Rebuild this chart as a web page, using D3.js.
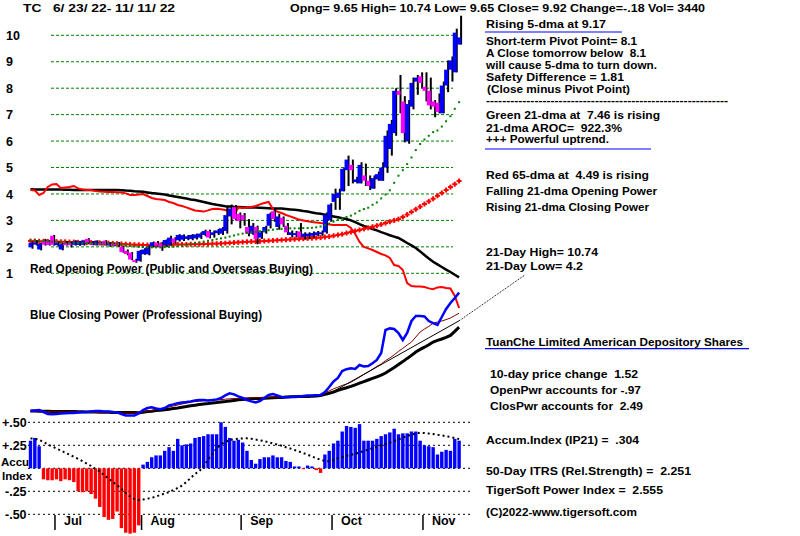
<!DOCTYPE html>
<html><head><meta charset="utf-8">
<script src="https://cdn.jsdelivr.net/npm/d3@7"></script>
<style>
body{margin:0;background:#fff}
svg{display:block;background:#fff}
text{font-family:"Liberation Sans",Arial,sans-serif;font-weight:bold;font-size:12px;fill:#000;white-space:pre}
text.side{font-size:11px}
</style>
</head><body>
<svg id="c" width="800" height="536"></svg>
<script>
// ---------- DATA ----------
const opens = [1.98,2.12,1.9,2.23,2.2,2.42,2.08,1.9,2.14,2.14,
2.08,2.08,2.08,2.3,2.15,2.08,2.15,2.22,2.06,2.12,
2.14,2.0,1.85,1.78,1.5,1.47,1.72,1.72,2.02,2.15,
2.12,2.07,2.07,2.32,2.25,2.27,2.3,2.3,2.32,2.35,
2.45,2.6,2.45,2.52,2.5,2.6,3.15,3.5,3.25,3.2,
2.75,2.5,2.75,2.35,2.55,2.8,3.35,2.75,3.1,2.8,
2.45,2.45,2.58,2.38,2.4,2.42,2.45,2.48,2.55,3.0,
3.7,3.85,4.1,4.9,5.1,4.45,4.4,4.7,4.5,4.2,
4.55,4.5,5.0,5.7,6.3,7.9,7.5,6.0,7.3,8.25,
8.45,8.05,7.9,7.5,7.45,7.05,8.1,8.7,8.6,9.65];
const highs = [2.2,2.25,2.16,2.3,2.25,2.45,2.2,2.15,2.22,2.2,
2.25,2.22,2.25,2.33,2.22,2.25,2.2,2.25,2.18,2.16,
2.18,2.05,1.9,1.8,1.55,1.88,1.95,2.05,2.2,2.22,
2.18,2.28,2.42,2.36,2.48,2.47,2.45,2.48,2.5,2.55,
2.65,2.65,2.62,2.68,2.75,3.55,3.6,3.58,3.3,3.28,
3.05,2.9,2.8,2.6,2.8,3.3,3.45,3.25,3.15,2.9,
2.62,2.6,2.9,2.55,2.55,2.58,2.6,2.62,3.3,3.65,
4.2,4.2,5.0,5.45,5.3,4.65,5.2,5.15,4.7,4.7,
4.85,5.2,6.4,6.8,8.0,8.5,7.7,7.55,8.4,8.5,
8.6,8.6,8.4,7.55,7.8,8.25,9.05,9.2,10.25,10.74];
const lows = [1.93,2.05,1.87,2.05,2.05,2.05,2.02,1.87,2.05,1.98,
2.05,2.04,2.05,2.1,2.06,2.05,2.05,2.05,2.0,2.02,
2.0,1.78,1.68,1.5,1.4,1.44,1.7,1.68,1.98,2.0,
1.85,2.0,2.05,2.12,2.2,2.22,2.25,2.25,2.28,2.3,
2.4,2.32,2.35,2.45,2.45,2.5,2.85,3.0,2.7,2.8,
2.4,2.45,2.1,2.3,2.5,2.7,2.95,2.65,2.75,2.45,
2.35,2.35,2.35,2.28,2.3,2.35,2.4,2.42,2.5,2.95,
3.4,3.4,4.1,4.3,4.4,4.4,4.4,4.3,4.15,4.2,
4.5,4.5,4.8,5.45,6.2,7.05,5.95,5.9,7.2,7.75,
8.0,7.5,7.2,6.9,7.05,7.05,7.85,8.25,8.6,9.65];
const closes = [2.15,2.16,2.12,2.08,2.07,2.08,2.14,2.1,2.08,2.08,
2.2,2.2,2.23,2.15,2.08,2.22,2.08,2.08,2.14,2.06,
2.06,1.8,1.73,1.52,1.44,1.85,1.9,2.0,2.17,2.05,
1.98,2.26,2.35,2.17,2.45,2.44,2.4,2.45,2.47,2.5,
2.6,2.35,2.55,2.62,2.7,3.2,3.45,3.05,2.98,3.02,
2.5,2.8,2.3,2.55,2.75,3.25,3.05,3.15,2.85,2.55,
2.55,2.52,2.38,2.5,2.5,2.52,2.55,2.55,3.2,3.6,
4.0,4.05,4.95,5.3,4.9,4.55,5.1,4.5,4.3,4.6,
4.75,5.0,6.2,6.65,7.9,7.75,6.3,7.4,8.2,8.4,
8.2,7.9,7.35,7.3,7.1,8.1,8.7,9.05,10.1,9.92];
const ma21 = [2.25,2.24,2.23,2.22,2.21,2.2,2.19,2.18,2.17,2.16,
2.15,2.15,2.14,2.14,2.13,2.13,2.12,2.12,2.12,2.11,
2.1,2.09,2.07,2.05,2.02,2.0,1.99,1.98,1.98,1.98,
1.98,1.99,2.0,2.01,2.03,2.05,2.08,2.11,2.14,2.17,
2.2,2.23,2.26,2.29,2.32,2.35,2.39,2.43,2.47,2.5,
2.53,2.55,2.57,2.59,2.61,2.63,2.65,2.67,2.68,2.69,
2.7,2.7,2.7,2.71,2.71,2.72,2.74,2.77,2.82,2.88,
2.95,3.02,3.08,3.13,3.18,3.26,3.36,3.43,3.48,3.59,
3.68,3.83,3.98,4.14,4.42,4.69,4.9,5.13,5.38,5.66,
5.89,6.06,6.2,6.34,6.4,6.55,6.75,6.94,7.22,7.47];
const ma65 = [2.22,2.22,2.21,2.21,2.2,2.2,2.2,2.19,2.19,2.18,
2.18,2.17,2.17,2.16,2.16,2.15,2.15,2.14,2.14,2.13,
2.12,2.11,2.1,2.09,2.08,2.08,2.07,2.07,2.07,2.07,
2.07,2.08,2.08,2.08,2.09,2.09,2.09,2.1,2.1,2.1,
2.11,2.11,2.12,2.12,2.13,2.14,2.15,2.16,2.17,2.18,
2.19,2.2,2.2,2.21,2.22,2.23,2.24,2.25,2.26,2.27,
2.28,2.29,2.3,2.31,2.32,2.33,2.34,2.35,2.37,2.39,
2.42,2.45,2.48,2.52,2.56,2.6,2.64,2.68,2.72,2.76,
2.8,2.85,2.9,2.95,3.0,3.05,3.13,3.22,3.32,3.42,
3.52,3.62,3.72,3.82,3.93,4.04,4.15,4.26,4.37,4.49];
const openPower = [115,114.8,112.5,113.5,116.5,117.8,118,116,116.3,116.5,
117,115.8,115.3,115,115,114.5,114.2,114.1,114,114,
113.9,113.8,113.3,112.5,112.5,112.8,113,112,111,110.5,
110.3,110,109,108.5,107.5,107,106.3,105.5,104.8,104.5,
104.2,104.8,105.5,105.6,105.4,105,104.2,102,106.3,106,
106.3,106.5,107,107.8,108.5,109,105.5,104.2,103.5,102.5,
101.8,101,100.2,99.8,99.4,99,98.8,98.5,98.3,97.8,
97.5,97.5,97.5,97.5,96,93,89,86.5,85.8,85,
84,83,82.3,81,77.5,77,75,68.5,67,66.7,
66.7,66.5,65.8,65.4,66.3,66.5,66,65.8,62,56];
const openPowerMA = [115.4,115.3,115.3,115.3,115.3,115.2,115.2,115.2,115.1,115.1,
115,115,115,115,115,115,115,115,115,115,
115,114.9,114.7,114.6,114.4,114.3,114.1,113.8,113.5,113.3,
113,112.7,112.3,111.9,111.5,111.1,110.7,110.3,110,109.5,
109,108.5,108,107.6,107.3,106.9,106.8,106.6,106.5,106.4,
106.3,106.3,106.2,106.1,106,105.9,105.8,105.7,105.7,105.5,
105.3,105.1,104.9,104.5,104.2,103.8,103.4,103.1,102.7,102.2,
101.8,101.4,100.9,100.5,99.8,98.9,97.9,97,96.3,95.5,
94.8,93.9,93.2,92.4,91.7,91,89.8,88.5,87.3,86,
84.3,82.5,80.8,79.1,77.8,76.5,75.2,74,72.6,71.3];
const closePower = [4.5,4.8,5,4,3,2.9,3,3.2,3.4,3.5,
3.5,3.7,3.9,4,4.3,4.5,4.5,4.3,4.2,4,
3.8,3,2.3,2.2,2.3,3.3,5,6,6.4,5.8,
5.4,6,7.3,7.8,8.4,8.8,9,9.3,9.8,10,
10,9.8,10,10.3,11,12.3,13.3,12.8,11.8,11,
10,9.3,8.8,9.5,11,12.5,13,12.3,11.5,11.4,
11.5,11.7,11.7,12,12.2,12.3,12.4,12.5,14,16.5,
19.3,21,24.5,25.4,25.9,25.5,27.5,26.8,27,28.4,
30,33.5,45,45.8,45.5,43.5,40,43.5,49.5,52,
52,51.8,49.5,48.4,47.5,51.5,55.5,58.5,61,63.7];
const closePowerMA = [4.5,4.5,4.4,4.4,4.4,4.3,4.3,4.3,4.2,4.2,
4.2,4.1,4.1,4.0,4.0,4.0,3.9,3.9,3.9,3.8,
3.8,3.8,3.7,3.7,3.7,3.65,3.9,4.2,4.4,4.7,
4.9,5.1,5.4,5.7,6,6.4,6.7,7.1,7.4,7.7,
8,8.2,8.5,8.7,9,9.2,9.5,9.8,10.1,10.3,
10.5,10.6,10.7,10.8,10.9,11,11.1,11.2,11.3,11.5,
11.6,11.6,11.7,11.7,11.8,11.9,12,12.3,12.8,13.4,
14,14.8,15.5,16.1,16.8,17.6,18.4,19.2,20,20.8,
21.6,22.4,23.5,24.9,26.3,27.8,29.2,30.8,32.3,34,
35.3,36.4,37.6,39,39.8,40.5,41.3,42.3,44.3,46.4];
const closePowerMA2 = [4.2,4.2,4.2,4.1,4.1,4.1,4.1,4.0,4.0,4.0,
4.0,3.9,3.9,3.9,3.8,3.8,3.8,3.7,3.7,3.7,
3.6,3.5,3.5,3.4,3.4,3.5,3.9,4.4,4.8,5.2,
5.6,6,6.5,7,7.5,8,8.4,8.9,9.2,9.4,
9.6,9.7,9.9,10,10.2,10.4,10.6,10.7,10.8,10.9,
11,11.1,11.2,11.2,11.3,11.4,11.5,11.5,11.6,11.6,
11.7,11.8,11.9,12,12.1,12.2,12.4,12.8,13.6,14.6,
15.6,16.4,17.3,18,18.9,20.1,21.4,22.8,24,25.4,
26.8,28,29.7,31,32.6,34.3,35.8,37.5,39,41.5,
44,45.5,46.8,48.4,49,49.5,50.2,51,52.2,53.4];
const cpTrend = [[68.5,12.5],[99,49.6],[114.2,72.5]];
const accum = [0.30,0.33,0.24,-0.12,-0.13,-0.13,-0.12,-0.14,-0.12,-0.13,
-0.15,-0.25,-0.26,-0.25,-0.28,-0.33,-0.42,-0.53,-0.56,-0.55,
-0.47,-0.65,-0.70,-0.71,-0.70,-0.62,0.04,0.07,0.12,0.14,
0.14,0.19,0.23,0.19,0.32,0.25,0.26,0.27,0.33,0.34,
0.35,0.37,0.37,0.37,0.50,0.45,0.33,0.30,0.31,0.28,
0.19,0.09,0.05,0.10,0.12,0.12,0.14,0.12,0.12,0.08,
0.07,0.02,0.02,-0.01,0.03,0.02,-0.02,-0.05,0.15,0.19,
0.27,0.30,0.40,0.46,0.45,0.44,0.48,0.30,0.30,0.30,
0.32,0.35,0.37,0.39,0.43,0.37,0.38,0.38,0.40,0.40,
0.30,0.25,0.24,0.23,0.15,0.18,0.20,0.19,0.32,0.30];
const accumMA = [0.324,0.321,0.308,0.286,0.259,0.237,0.215,0.193,0.170,0.148,
0.125,0.102,0.079,0.052,0.025,-0.008,-0.035,-0.073,-0.111,-0.149,
-0.182,-0.225,-0.268,-0.307,-0.334,-0.345,-0.339,-0.330,-0.321,-0.307,
-0.290,-0.274,-0.258,-0.236,-0.214,-0.187,-0.149,-0.105,-0.062,-0.029,
0.020,0.096,0.155,0.215,0.259,0.286,0.308,0.316,0.321,0.325,
0.326,0.321,0.312,0.304,0.295,0.284,0.270,0.259,0.246,0.229,
0.215,0.199,0.183,0.166,0.148,0.128,0.110,0.092,0.079,0.076,
0.092,0.109,0.121,0.134,0.145,0.158,0.172,0.188,0.202,0.218,
0.234,0.248,0.264,0.278,0.297,0.313,0.333,0.351,0.366,0.378,
0.386,0.384,0.378,0.373,0.364,0.357,0.348,0.340,0.329,0.318];
const priceTicks = [1,2,3,4,5,6,7,8,9,10];
const accumTicks = [0.5,0.25,0,-0.25,-0.5];
const accumTickLabels = ["+.50","+.25","","-.25","-.50"];
const monthLabels = ["Jul","Aug","Sep","Oct","Nov"];
const monthStartIdx = [6,26,49,70,91];
const headerLeft = "TC   6/ 23/ 22- 11/ 11/ 22";
const headerRight = "Opng= 9.65 High= 10.74 Low= 9.65 Close= 9.92 Change=-.18 Vol= 3440";

// ---------- SCALES ----------
const svg = d3.select("#c");
const x = d3.scaleLinear().domain([0,99]).range([30.5,459.1]);
const yP = d3.scaleLinear().domain([1,10]).range([273.3,35.3]);
const yPow = d3.scaleLinear().domain([0,100]).range([420,220]);
const yA = d3.scaleLinear().domain([-0.5,0.5]).range([514.3,422.3]);
const idx = d3.range(closes.length);

function txt(xp, yp, s, w, cls){
  const t = svg.append("text").attr("x",xp).attr("y",yp).text(s);
  if (w) t.attr("textLength",w).attr("lengthAdjust","spacingAndGlyphs");
  if (cls) t.attr("class",cls);
  return t;
}

// ---------- PRICE PANEL ----------
svg.append("g").selectAll("line").data(priceTicks).join("line")
  .attr("x1",51).attr("x2",453).attr("y1",d=>yP(d)).attr("y2",d=>yP(d))
  .attr("stroke","#008000").attr("stroke-width",1).attr("stroke-dasharray","3,2");
svg.append("g").selectAll("text").data(priceTicks).join("text")
  .style("font-size","12.5px")
  .attr("x",6).attr("y",d=>yP(d)+4.7).text(d=>d);

const lineP = arr => d3.line().x((d,i)=>x(i)).y(d=>yPow(d))(arr);
svg.append("path").attr("d",lineP(openPowerMA)).attr("fill","none").attr("stroke","#000").attr("stroke-width",2.5);
svg.append("path").attr("d",lineP(openPower)).attr("fill","none").attr("stroke","#ff0000").attr("stroke-width",2);

svg.append("path").attr("d",lineP(closePowerMA)).attr("fill","none").attr("stroke","#000").attr("stroke-width",3);
svg.append("path").attr("d",lineP(closePowerMA2)).attr("fill","none").attr("stroke","#800000").attr("stroke-width",1);
svg.append("path").attr("d",d3.line().x(d=>x(d[0])).y(d=>yPow(d[1]))(cpTrend.slice(0,2)))
  .attr("fill","none").attr("stroke","#000").attr("stroke-width",1);
svg.append("path").attr("d",d3.line().x(d=>x(d[0])).y(d=>yPow(d[1]))(cpTrend.slice(1)))
  .attr("fill","none").attr("stroke","#000").attr("stroke-width",1).attr("stroke-dasharray","1,1");
svg.append("path").attr("d",lineP(closePower)).attr("fill","none").attr("stroke","#0000ff").attr("stroke-width",2.5);

const g65 = svg.append("g").attr("fill","#ff0000");
idx.forEach(i=>{
  g65.append("rect").attr("x",x(i)-2.5).attr("y",yP(ma65[i])-1).attr("width",5).attr("height",2);
  g65.append("rect").attr("x",x(i)-1).attr("y",yP(ma65[i])-2.5).attr("width",2).attr("height",5);
});

const gb = svg.append("g");
idx.forEach(i=>{
  gb.append("rect").attr("x",x(i)+1).attr("width",2)
    .attr("y",yP(highs[i])).attr("height",Math.max(1,yP(lows[i])-yP(highs[i]))).attr("fill","#000");
  const top = yP(Math.max(opens[i],closes[i])), bot = yP(Math.min(opens[i],closes[i]));
  gb.append("rect").attr("x",x(i)-2).attr("width",4)
    .attr("y",top).attr("height",Math.max(2,bot-top))
    .attr("fill",closes[i]>=opens[i]?"#0000ff":"#ff00ff");
});

svg.append("g").selectAll("rect").data(ma21).join("rect")
  .attr("x",(d,i)=>x(i)-1).attr("y",d=>yP(d)-1).attr("width",2).attr("height",2).attr("fill","#008000");

txt(30,272.7,"Red Opening Power (Public and Overseas Buying)",283);
txt(30,319.3,"Blue Closing Power (Professional Buying)",232);

// ---------- ACCUM PANEL ----------
svg.append("g").selectAll("text").data(accumTicks).join("text")
  .style("font-size","12.5px")
  .attr("x",(d,i)=>i===0||i===1?2:5).attr("y",d=>yA(d)+4.5).text((d,i)=>accumTickLabels[i]);
txt(1,466.2,"Accu",null).style("font-size","11.5px");
txt(2,479.5,"Index",null).style("font-size","11.5px");
svg.append("g").selectAll("line").data(accumTicks).join("line")
  .attr("x1",28).attr("x2",472).attr("y1",d=>yA(d)).attr("y2",d=>yA(d))
  .attr("stroke","#000").attr("stroke-width",1).attr("stroke-dasharray","2,3");
svg.append("g").selectAll("rect").data(accum).join("rect")
  .attr("x",(d,i)=>x(i)-1.7).attr("width",3.4)
  .attr("y",d=>d>=0?yA(d):yA(0)).attr("height",d=>Math.abs(yA(d)-yA(0)))
  .attr("fill",d=>d>=0?"#0000ff":"#ff0000");
svg.append("path").attr("d",d3.line().x((d,i)=>x(i)).y(d=>yA(d))(accumMA))
  .attr("fill","none").attr("stroke","#000").attr("stroke-width",2).attr("stroke-dasharray","2,3");

svg.append("g").selectAll("line").data(monthStartIdx).join("line")
  .attr("x1",d=>x(d)-1.5).attr("x2",d=>x(d)-1.5).attr("y1",515).attr("y2",530)
  .attr("stroke","#000").attr("stroke-width",1.5);
svg.append("g").selectAll("text").data(monthStartIdx).join("text")
  .style("font-size","12.5px")
  .attr("x",d=>x(d)+7.5).attr("y",524.5).text((d,i)=>monthLabels[i]);

// ---------- HEADER ----------
txt(23,11.5,headerLeft,152).style("font-size","11.5px");
txt(290,11.5,headerRight,415).style("font-size","11.5px");

// ---------- RIGHT TEXT PANEL ----------
txt(486,28,"Rising 5-dma at 9.17",120,"side");
svg.append("line").attr("x1",485).attr("x2",622).attr("y1",32).attr("y2",32).attr("stroke","#0000ff").attr("stroke-width",1.2);
txt(486,45,"Short-term Pivot Point= 8.1",151,"side");
txt(486,56.7,"A Close tomorrow below  8.1",160,"side");
txt(486,69,"will cause 5-dma to turn down.",171,"side");
txt(486,81.3,"Safety Difference = 1.81",138,"side");
txt(487,93.3,"(Close minus Pivot Point)",143,"side");
txt(486,104,"-".repeat(60),242,"side");
txt(486,119,"Green 21-dma at  7.46 is rising",174,"side");
txt(486,132,"21-dma AROC=  922.3%",136,"side");
txt(486,142.5,"+++ Powerful uptrend.",123,"side");
svg.append("line").attr("x1",485).attr("x2",651).attr("y1",149).attr("y2",149).attr("stroke","#0000ff").attr("stroke-width",1.2);
txt(486,179.3,"Red 65-dma at  4.49 is rising",163,"side");
txt(486,195.3,"Falling 21-dma Opening Power",171,"side");
txt(486,210.7,"Rising 21-dma Closing Power",163,"side");
txt(486,256,"21-Day High= 10.74",112,"side");
txt(486,270,"21-Day Low= 4.2",97,"side");
txt(486,346,"TuanChe Limited American Depository Shares",257,"side");
svg.append("line").attr("x1",485).attr("x2",749).attr("y1",348.7).attr("y2",348.7).attr("stroke","#0000ff").attr("stroke-width",1.2);
txt(490,378.3,"10-day price change  1.52",148,"side");
txt(490,394,"OpenPwr accounts for -.97",151,"side");
txt(490,409.7,"ClosPwr accounts for  2.49",153,"side");
txt(486,443.7,"Accum.Index (IP21) =  .304",153,"side");
txt(486,475,"50-Day ITRS (Rel.Strength) =  2.251",205,"side");
txt(486,493.7,"TigerSoft Power Index =  2.555",177,"side");
txt(486,516,"(C)2022-www.tigersoft.com",151,"side");
</script>
</body></html>
